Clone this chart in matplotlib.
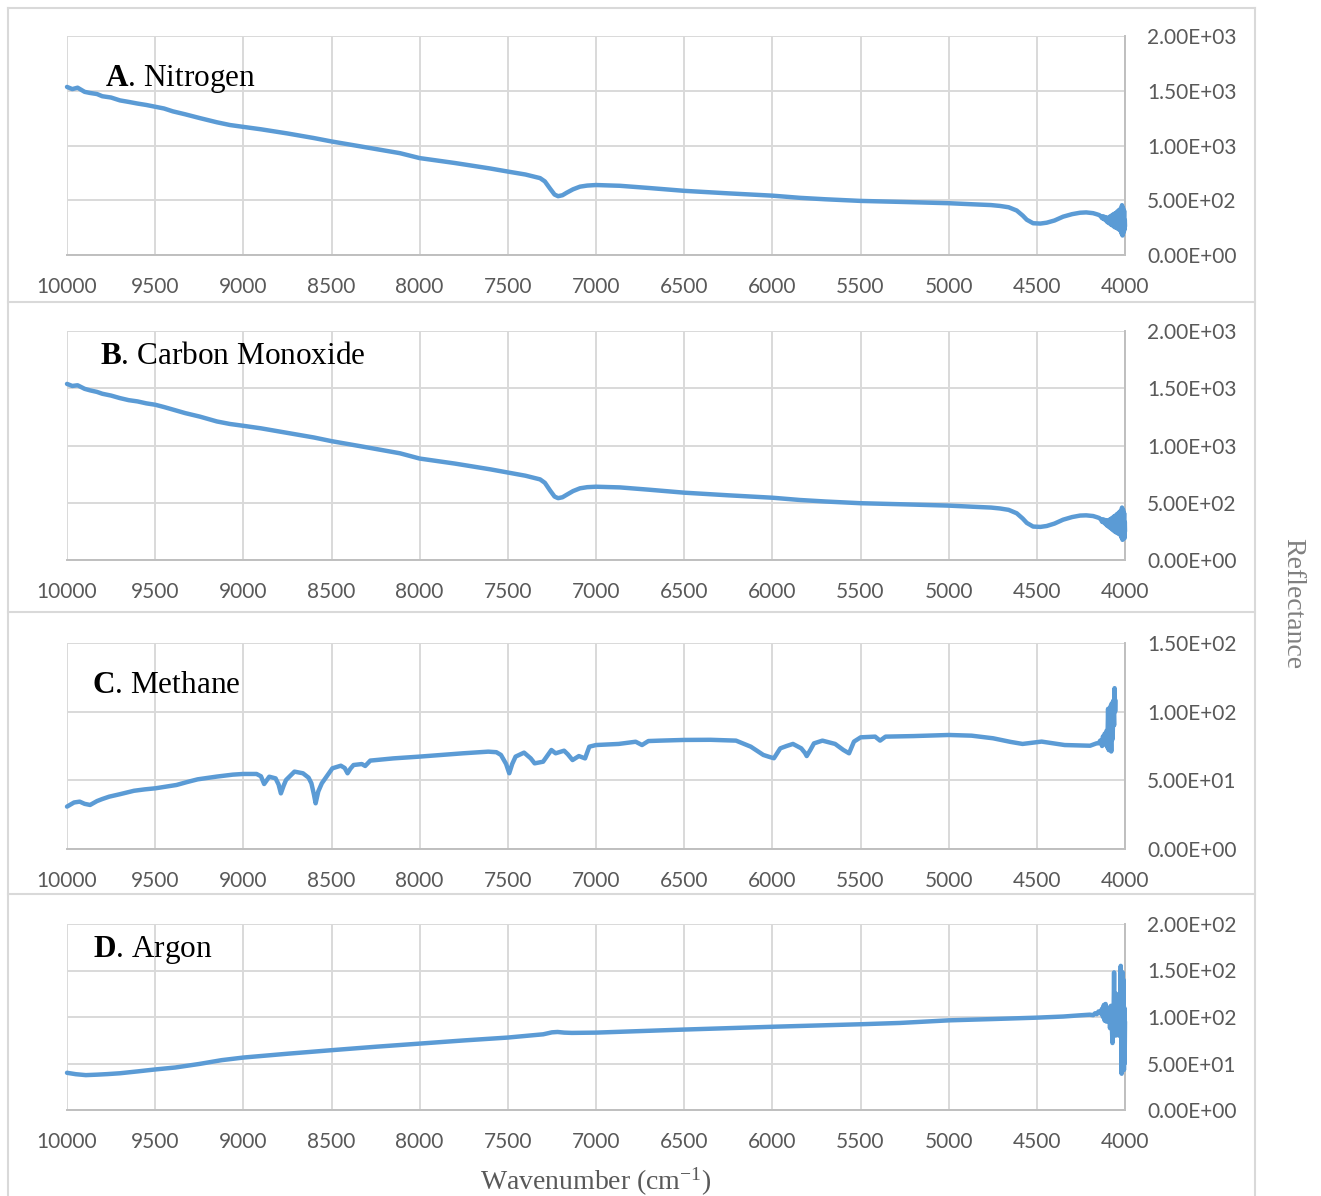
import matplotlib
matplotlib.use("Agg")
import matplotlib.pyplot as plt
from matplotlib.lines import Line2D
from matplotlib.ticker import FuncFormatter, MultipleLocator

plt.rcParams["mathtext.fontset"] = "custom"
plt.rcParams["mathtext.rm"] = "Liberation Serif"
plt.rcParams["mathtext.bf"] = "Liberation Serif:bold"
plt.rcParams["mathtext.it"] = "Liberation Serif:italic"

# ---------------- spectra (wavenumber in cm^-1, reflectance) ----------------
nitrogen_wn = [10000, 9970, 9940, 9900, 9870, 9830, 9800, 9750, 9700, 9650, 9600, 9550, 9500,
               9450, 9400, 9330, 9246, 9150, 9076, 9000, 8900, 8750, 8600, 8500, 8300, 8112,
               8000, 7800, 7600, 7500, 7400, 7317, 7290, 7260, 7235, 7215, 7190, 7166, 7130,
               7091, 7050, 7000, 6864, 6700, 6500, 6250, 6000, 5843, 5700, 5500, 5250, 5000,
               4862, 4760, 4709, 4660, 4614, 4580, 4557, 4521, 4480, 4444, 4400, 4351, 4300,
               4255, 4220, 4181, 4160, 4145,
               4135, 4130, 4125, 4120, 4115, 4110, 4105, 4100, 4095, 4090, 4085, 4080, 4075,
               4070, 4065, 4060, 4055, 4050, 4045, 4040, 4035, 4030, 4025, 4020, 4017, 4014,
               4011, 4008, 4005, 4003, 4001, 4000]
nitrogen_refl = [1535, 1515, 1528, 1490, 1480, 1470, 1450, 1438, 1412, 1398, 1383, 1370, 1354,
                 1338, 1312, 1285, 1250, 1212, 1187, 1170, 1148, 1110, 1068, 1037, 982, 930,
                 885, 840, 790, 762, 735, 702, 672, 605, 552, 537, 546, 569, 600,
                 624, 634, 639, 632, 612, 586, 563, 542, 522, 509, 494, 484, 473,
                 463, 456, 448, 436, 406, 360, 322, 290, 287, 295, 315, 350, 373,
                 386, 389, 382, 372, 364,
                 348, 336, 354, 328, 348, 316, 342, 300, 340, 290, 352, 278, 362, 268, 374,
                 255, 382, 248, 396, 238, 410, 226, 425, 198, 455, 178, 430, 205, 405, 228,
                 318, 262]

carbon_monoxide_wn = [10000, 9970, 9940, 9900, 9870, 9830, 9800, 9750, 9700, 9650, 9600, 9550,
                      9500, 9450, 9400, 9330, 9246, 9150, 9076, 9000, 8900, 8750, 8600, 8500,
                      8300, 8112, 8000, 7800, 7600, 7500, 7400, 7317, 7290, 7260, 7235, 7215,
                      7190, 7166, 7130, 7091, 7050, 7000, 6864, 6700, 6500, 6250, 6000, 5843,
                      5700, 5500, 5250, 5000, 4862, 4760, 4709, 4660, 4614, 4580, 4557, 4521,
                      4480, 4444, 4400, 4351, 4300, 4255, 4220, 4181, 4160, 4145,
                      4135, 4130, 4125, 4120, 4115, 4110, 4105, 4100, 4095, 4090, 4085, 4080,
                      4075, 4070, 4065, 4060, 4055, 4050, 4045, 4040, 4035, 4030, 4025, 4020,
                      4017, 4014, 4011, 4008, 4005, 4003, 4001, 4000]
carbon_monoxide_refl = [1538, 1520, 1526, 1495, 1482, 1468, 1452, 1436, 1414, 1396, 1385, 1368,
                        1356, 1336, 1314, 1283, 1252, 1210, 1188, 1172, 1150, 1110, 1070, 1038,
                        984, 932, 886, 842, 792, 764, 736, 704, 674, 606, 554, 540,
                        548, 570, 602, 626, 636, 640, 634, 614, 588, 565, 544, 524,
                        511, 496, 486, 475, 465, 458, 450, 438, 408, 362, 324, 292,
                        289, 297, 318, 352, 375, 388, 390, 384, 374, 366,
                        350, 334, 356, 326, 350, 312, 346, 298, 344, 286, 356, 276, 366,
                        262, 378, 250, 388, 240, 402, 232, 415, 222, 430, 196, 458, 176,
                        440, 200, 410, 190, 330, 250]

methane_wn = [10000, 9960, 9928, 9900, 9869, 9830, 9800, 9761, 9700, 9620, 9560, 9498, 9440,
              9379, 9320, 9259, 9150, 9060, 9001, 8925, 8900, 8882, 8865, 8853, 8817, 8800,
              8787, 8772, 8758, 8710, 8662, 8630, 8614, 8600, 8590, 8575, 8555, 8495, 8447,
              8425, 8409, 8393, 8375, 8328, 8309, 8280, 8150, 8000, 7880, 7754, 7611, 7565,
              7539, 7510, 7492, 7475, 7456, 7408, 7370, 7348, 7300, 7253, 7229, 7181, 7160,
              7133, 7097, 7062, 7038, 7000, 6871, 6775, 6739, 6703, 6636, 6500, 6350, 6206,
              6122, 6051, 6020, 5991, 5955, 5919, 5883, 5836, 5815, 5805, 5785, 5764, 5716,
              5644, 5597, 5565, 5537, 5499, 5417, 5389, 5358, 5200, 4999, 4870, 4748, 4650,
              4581, 4473, 4342, 4198, 4162, 4150, 4140, 4130, 4125, 4120, 4115, 4110, 4105,
              4100, 4096, 4092, 4088, 4085, 4082, 4078, 4075, 4070, 4066, 4062, 4059, 4056,
              4054]
methane_refl = [31, 34, 34.6, 33, 32.2, 35, 36.5, 38.2, 40, 42.5, 43.5, 44.3, 45.5,
                46.7, 48.8, 50.8, 52.8, 54.2, 54.7, 54.7, 53, 47.4, 50.5, 52.7, 51.5, 47,
                40.6, 46, 50.3, 56.4, 55.2, 52, 47.9, 40, 33.4, 42, 47.9, 58.8, 60.7,
                59, 55.2, 58.5, 61.2, 61.9, 60.5, 64.4, 66, 67.3, 68.5, 69.7, 70.9, 70.5,
                68.5, 62, 55.2, 62, 67.3, 70.2, 66, 62.4, 63.6, 72.1, 69.7, 71.6, 69,
                64.8, 67.7, 66.0, 74.5, 75.7, 76.5, 78.1, 75.7, 78.6, 78.9, 79.4, 79.5, 78.9,
                74.5, 68.5, 67.2, 66.1, 73.3, 75.0, 76.5, 73.3, 70, 67.7, 72, 76.9, 78.9,
                76.5, 72.1, 69.7, 78.2, 81.3, 81.8, 78.9, 81.8, 82.2, 83.0, 82.5, 80.6, 78,
                76.5, 78.2, 75.7, 75.2, 76.9, 77, 79, 75, 82, 76, 84, 77, 86,
                74, 102, 72, 98, 80, 104, 71, 106, 80, 108, 90, 117, 100,
                108]

argon_wn = [10000, 9950, 9893, 9830, 9771, 9700, 9600, 9500, 9386, 9250, 9123, 9000, 8750,
            8500, 8250, 8000, 7750, 7500, 7380, 7299, 7250, 7218, 7180, 7137, 7000, 6500,
            6000, 5500, 5276, 5000, 4750, 4500, 4350, 4255, 4200,
            4180, 4170, 4160, 4150, 4140, 4130, 4125, 4120, 4115, 4110, 4105, 4100, 4095,
            4090, 4085, 4080, 4075, 4071, 4068, 4065, 4062, 4059, 4056, 4053, 4050, 4047,
            4044, 4041, 4038, 4035, 4032, 4029, 4026, 4024, 4021, 4019, 4016, 4013, 4010,
            4008, 4006, 4004, 4002, 4000]
argon_refl = [40, 38.5, 37.5, 38, 38.6, 39.5, 41.5, 43.6, 45.7, 49.5, 53.6, 56.4, 60.5,
              64.3, 68, 71.4, 74.8, 77.9, 80, 81.4, 83.5, 83.9, 83.2, 82.9, 83.2, 86.5,
              89.5, 92.2, 93.6, 96.4, 97.8, 99.3, 100.5, 101.8, 102.5,
              102, 104, 103, 106, 104, 109, 100, 113, 96, 114, 95, 108, 100,
              110, 88, 112, 92, 72, 110, 95, 148, 85, 118, 80, 125, 90,
              112, 88, 120, 80, 110, 95, 140, 155, 80, 39, 120, 148, 60,
              140, 43, 110, 50, 95]

panels = [
    ("A", "Nitrogen", nitrogen_wn, nitrogen_refl, 2000, 500),
    ("B", "Carbon Monoxide", carbon_monoxide_wn, carbon_monoxide_refl, 2000, 500),
    ("C", "Methane", methane_wn, methane_refl, 150, 50),
    ("D", "Argon", argon_wn, argon_refl, 200, 50),
]

# ---------------- layout (pixel boxes of the four plot areas) ----------------
W, H = 1321, 1196
plot_left, plot_right = 67, 1125
plot_rows = [(36, 255), (331, 560), (642.7, 849.3), (924, 1110)]
title_pos = [(105, 86), (100, 364), (92, 693), (93, 957)]

LINE_COLOR = "#5B9BD5"
GRID_COLOR = "#D9D9D9"
AXIS_COLOR = "#BFBFBF"
TEXT_COLOR = "#595959"
FRAME_COLOR = "#D9D9D9"

fig = plt.figure(figsize=(W / 100, H / 100), dpi=100)


def fx(x):
    return x / W


def fy(y):
    return 1 - y / H


sci_fmt = FuncFormatter(lambda v, _: f"{v:.2E}")

for (letter, name, wn, refl, ymax, ystep), (top, bottom), (tx, ty) in zip(
        panels, plot_rows, title_pos):
    ax = fig.add_axes([fx(plot_left), fy(bottom), (plot_right - plot_left) / W,
                       (bottom - top) / H])
    ax.plot(wn, refl, color=LINE_COLOR, lw=3.2, solid_joinstyle="round",
            solid_capstyle="round", zorder=3, clip_on=False)
    ax.set_xlim(10000, 4000)
    ax.set_ylim(0, ymax)
    ax.xaxis.set_major_locator(MultipleLocator(500))
    ax.yaxis.set_major_locator(MultipleLocator(ystep))
    ax.yaxis.set_major_formatter(sci_fmt)
    ax.yaxis.tick_right()
    ax.grid(True, color=GRID_COLOR, lw=1.4, zorder=0)
    ax.set_axisbelow(True)
    for side in ("left", "top"):
        ax.spines[side].set_visible(False)
    for side in ("bottom", "right"):
        ax.spines[side].set_color(AXIS_COLOR)
        ax.spines[side].set_linewidth(1.4)
    ax.tick_params(axis="both", length=0, labelsize=15, labelcolor=TEXT_COLOR)
    ax.tick_params(axis="x", pad=15.5)
    ax.tick_params(axis="y", pad=16)
    for lab in ax.get_xticklabels() + ax.get_yticklabels():
        lab.set_fontfamily("Lato")
    ax.patch.set_alpha(0)

    fig.text(fx(tx), fy(ty), rf"$\mathbf{{{letter}}}$. {name}",
             fontfamily="Liberation Serif", fontsize=22.5, color="black",
             ha="left", va="baseline")

# chart-area frames
frame_lines = [
    ((8, 1255), (8, 8)),
    ((8, 1255), (302, 302)),
    ((8, 1255), (612, 612)),
    ((8, 1255), (894, 894)),
    ((8, 8), (8, 1196)),
    ((1255, 1255), (8, 1196)),
]
for xs, ys in frame_lines:
    fig.add_artist(Line2D([fx(x) for x in xs], [fy(y) for y in ys],
                          transform=fig.transFigure, color=FRAME_COLOR, lw=1.5))

fig.text(fx(596), fy(1182), r"Wavenumber (cm$^{\mathrm{-1}}$)",
         fontfamily="Liberation Serif", fontsize=20, color=TEXT_COLOR,
         ha="center", va="center")
fig.text(fx(1293), fy(604), "Reflectance", fontfamily="Liberation Serif",
         fontsize=20, color="#808080", rotation=270, ha="center", va="center")

fig.savefig("out.png", dpi=100, facecolor="white")
